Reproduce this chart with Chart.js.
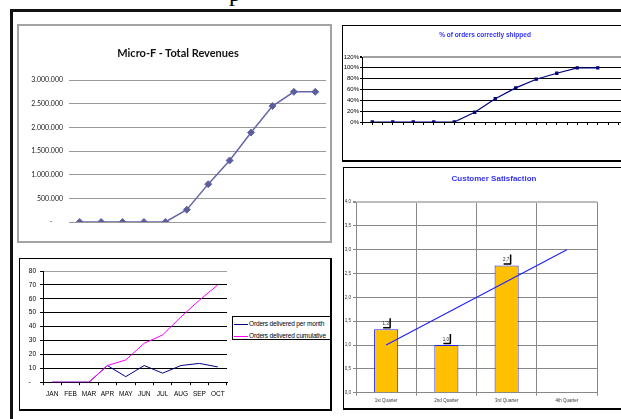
<!DOCTYPE html>
<html lang="en">
<head>
<meta charset="UTF-8">
<title>Micro-F dashboard</title>
<script src="https://cdn.jsdelivr.net/npm/chart.js"></script>
<style>
  html, body { margin: 0; padding: 0; background: #fff; }
  body { position: relative; width: 621px; height: 419px; overflow: hidden; }
  .abs { position: absolute; box-sizing: border-box; }
  canvas { position: absolute; }
  .ttl { position: absolute; text-align: center; font-weight: bold; white-space: nowrap; }
  #ordersLegend { font-family: 'Liberation Sans', Arial, sans-serif; font-size: 6.5px; letter-spacing: -0.15px; color: #000; background: #fff; overflow: hidden; }
  #ordersLegend .row { position: absolute; left: 1px; height: 12px; line-height: 12px; white-space: nowrap; }
  #ordersLegend .key { position: absolute; left: 0; top: 6px; width: 14px; height: 0; border-top: 1px solid; }
  #ordersLegend .txt { position: absolute; left: 15px; top: 0; }
</style>
</head>
<body>
<!-- page frame and the tail of a letter cut off above -->
<div class="abs" style="left:229px; top:-19px; font:24px 'Liberation Serif'; line-height:24px;">p</div>
<div class="abs" style="left:10px; top:9px; width:611px; height:2.5px; background:#111;"></div>
<div class="abs" style="left:10px; top:9px; width:2.5px; height:410px; background:#111;"></div>

<!-- revenues -->
<div class="abs" style="left:17px; top:24px; width:315px; height:219px; border:2px solid #a3a3a3;"></div>
<canvas id="rev" width="315" height="219" style="left:17px; top:24px;"></canvas>
<div class="ttl" style="left:78px; top:46px; width:200px; line-height:14px; font-family:Lato; font-size:11px; color:#111;">Micro-F - Total Revenues</div>

<!-- orders correctly shipped -->
<div class="abs" style="left:342px; top:25px; width:300px; height:137px; border:1.5px solid #000; border-bottom-width:2px;"></div>
<canvas id="ship" width="300" height="137" style="left:342px; top:25px;"></canvas>
<div class="ttl" style="left:385px; top:30px; width:200px; line-height:10px; font-family:'Liberation Sans'; font-size:6.5px; color:#3333ff;">% of orders correctly shipped</div>

<!-- orders delivered -->
<div class="abs" style="left:19px; top:258px; width:313px; height:153px; border:1px solid #000; border-right-width:2.5px; border-bottom-width:2.5px;"></div>
<canvas id="orders" width="313" height="153" style="left:19px; top:258px;"></canvas>
<div id="ordersLegend" class="abs" style="left:232px; top:316px; width:99px; height:24px; border:1px solid #000;"></div>

<!-- customer satisfaction -->
<div class="abs" style="left:343px; top:167px; width:300px; height:243px; border:1.5px solid #000; border-bottom-width:2px;"></div>
<canvas id="sat" width="300" height="243" style="left:343px; top:167px;"></canvas>
<div class="ttl" style="left:394px; top:173px; width:200px; line-height:12px; font-family:'Liberation Sans'; font-size:8px; color:#3333ff;">Customer Satisfaction</div>

<script>
// Micro-F total revenues, by period
var revPeriods = ['1', '2', '3', '4', '5', '6', '7', '8', '9', '10', '11', '12'];
var revValues = [0, 0, 0, 0, 0, 260000, 800000, 1300000, 1890000, 2450000, 2750000, 2750000];

// % of orders correctly shipped
var shipPeriods = [1, 2, 3, 4, 5, 6, 7, 8, 9, 10, 11, 12];
var shipPct = [0, 0, 0, 0, 0, 18, 43, 63, 79, 90, 100, 100];

// orders delivered
var months = ['JAN', 'FEB', 'MAR', 'APR', 'MAY', 'JUN', 'JUL', 'AUG', 'SEP', 'OCT'];
var ordersMonthly = [0, 0, 0, 12, 4, 12, 6.5, 12, 13.5, 11];
var ordersCumulative = [0, 0, 0, 12, 16, 28, 34, 47, 59, 70];

// customer satisfaction
var quarters = ['1st Quarter', '2nd Quarter', '3rd Quarter', '4th Quarter'];
var satScores = [1.33, 1.0, 2.67, null];
var satTrend = [1.0, 1.667, 2.333, 3.0];

Chart.defaults.font.family = "'Liberation Sans', Arial, sans-serif";
Chart.defaults.color = '#000';
Chart.defaults.animation = false;
Chart.defaults.responsive = false;
Chart.defaults.plugins.tooltip.enabled = false;

function dots(v) {
    return String(v).replace(/\B(?=(\d{3})+(?!\d))/g, '.');
}

function comma(v) {
    return v.toFixed(1).replace('.', ',');
}

new Chart(document.getElementById('rev'), {
    type: 'line',
    data: {
        labels: revPeriods,
        datasets: [{
            data: revValues,
            borderColor: '#6466a8',
            backgroundColor: '#5b5d9e',
            borderWidth: 1.5,
            pointStyle: 'rectRot',
            pointRadius: 3.5,
            pointBorderWidth: 1
        }]
    },
    options: {
        layout: { padding: { top: 56, right: 6, bottom: 21, left: 0 } },
        plugins: { legend: { display: false } },
        scales: {
            x: { display: false, offset: true },
            y: {
                min: 0, max: 3000000,
                afterFit: function (s) { s.width = 52; },
                ticks: {
                    stepSize: 500000, padding: 6, color: '#222',
                    font: { family: 'Lato', size: 7 },
                    callback: function (v) { return v === 0 ? '-      ' : dots(v); }
                },
                grid: { color: '#9a9a9a', drawTicks: false },
                border: { display: false }
            }
        }
    }
});

new Chart(document.getElementById('ship'), {
    type: 'line',
    data: {
        datasets: [{
            data: shipPeriods.map(function (p, i) { return { x: p, y: shipPct[i] }; }),
            borderColor: '#000080',
            backgroundColor: '#000080',
            borderWidth: 1.2,
            pointStyle: 'rect',
            pointRadius: 1.5
        }]
    },
    options: {
        layout: { padding: { top: 32, right: 13.5, bottom: 37, left: 0 } },
        plugins: { legend: { display: false } },
        scales: {
            x: {
                type: 'linear', min: 0.5, max: 13.5,
                ticks: { display: false, stepSize: 0.5 },
                grid: { drawOnChartArea: false, color: '#000', tickLength: 3 },
                border: { color: '#000' }
            },
            y: {
                min: 0, max: 120,
                afterFit: function (s) { s.width = 20; },
                ticks: { stepSize: 20, padding: 1, font: { size: 6 }, callback: function (v) { return v + '%'; } },
                grid: {
                    color: function (c) { return c.tick && c.tick.value === 120 ? '#a0a0a0' : '#000'; },
                    lineWidth: function (c) { return c.tick && c.tick.value === 120 ? 2 : 1; },
                    tickColor: '#000', tickLength: 2
                },
                border: { color: '#000' }
            }
        }
    }
});

var ordersChart = new Chart(document.getElementById('orders'), {
    type: 'line',
    data: {
        labels: months,
        datasets: [{
            label: 'Orders delivered per month',
            data: ordersMonthly,
            borderColor: '#000080',
            borderWidth: 1,
            pointRadius: 0,
            order: 1
        }, {
            label: 'Orders delivered cumulative',
            data: ordersCumulative,
            borderColor: '#ff00ff',
            borderWidth: 1,
            pointRadius: 0,
            order: 0
        }]
    },
    options: {
        layout: { padding: { top: 13, right: 105, bottom: 8, left: 0 } },
        plugins: { legend: { display: false } },
        scales: {
            x: {
                offset: true,
                ticks: { padding: 5, font: { size: 6.5 }, maxRotation: 0, minRotation: 0, autoSkip: false },
                grid: {
                    offset: true,
                    color: function (c) { return c.index === months.length ? '#a0a0a0' : 'rgba(0,0,0,0)'; },
                    tickColor: '#000', tickLength: 3
                },
                border: { color: '#000' }
            },
            y: {
                min: 0, max: 80,
                afterFit: function (s) { s.width = 24; },
                ticks: { stepSize: 10, padding: 4, font: { size: 6.5 }, callback: function (v) { return v === 0 ? '-   ' : v; } },
                grid: {
                    color: function (c) { return c.tick && c.tick.value === 80 ? '#a0a0a0' : '#000'; },
                    tickColor: '#000', tickLength: 3
                },
                border: { color: '#000' }
            }
        }
    }
});

// legend in a framed box beside the plot, as in the spreadsheet
var legendBox = document.getElementById('ordersLegend');
ordersChart.data.datasets.forEach(function (ds, i) {
    var row = document.createElement('div');
    row.className = 'row';
    row.style.top = (0.5 + i * 12) + 'px';
    row.innerHTML = '<span class="key" style="border-color:' + ds.borderColor + '"></span><span class="txt"></span>';
    row.querySelector('.txt').textContent = ds.label;
    legendBox.appendChild(row);
});

// value labels over the bars, with the little black marks of the original
var barNotes = {
    id: 'barNotes',
    afterDatasetsDraw: function (chart) {
        var meta = chart.getDatasetMeta(1);
        var ctx = chart.ctx;
        ctx.save();
        meta.data.forEach(function (bar, i) {
            var v = satScores[i];
            if (v == null) return;
            var x = bar.x, y = bar.y;
            ctx.fillStyle = '#222';
            ctx.font = "4.5px 'Liberation Sans'";
            ctx.textAlign = 'center';
            ctx.textBaseline = 'bottom';
            ctx.fillText(comma(v), x - 0.5, y - 3.5);
            ctx.strokeStyle = '#000';
            ctx.lineWidth = 1.5;
            ctx.beginPath();
            ctx.moveTo(x - 3, y - 1.5);
            ctx.lineTo(x + 4.5, y - 1.5);
            ctx.moveTo(x + 4, y - 1.5);
            ctx.lineTo(x + 4, y - 11);
            ctx.stroke();
        });
        ctx.restore();
    }
};

new Chart(document.getElementById('sat'), {
    type: 'bar',
    data: {
        labels: quarters,
        datasets: [{
            type: 'line',
            data: satTrend,
            borderColor: '#2222ff',
            borderWidth: 1.2,
            pointRadius: 0,
            order: 0
        }, {
            type: 'bar',
            data: satScores,
            backgroundColor: '#ffc000',
            borderColor: '#2222e6',
            borderWidth: 1,
            barPercentage: 0.8,
            categoryPercentage: 0.5,
            order: 1
        }]
    },
    options: {
        layout: { padding: { top: 35, right: 46, bottom: 4.3, left: 0 } },
        plugins: { legend: { display: false } },
        scales: {
            x: {
                ticks: { padding: 2.3, font: { size: 4.5 }, color: '#333' },
                grid: {
                    color: function (c) { return c.index === quarters.length ? '#bdbdbd' : '#888'; },
                    lineWidth: function (c) { return c.index === quarters.length ? 2 : 1; },
                    tickColor: '#888', tickLength: 3
                },
                border: { color: '#888' }
            },
            y: {
                min: 0, max: 4,
                afterFit: function (s) { s.width = 13; },
                ticks: { stepSize: 0.5, padding: 2, font: { size: 4.5 }, color: '#333', callback: function (v) { return comma(v); } },
                grid: {
                    color: function (c) { return c.tick && c.tick.value === 4 ? '#bdbdbd' : '#888'; },
                    lineWidth: function (c) { return c.tick && c.tick.value === 4 ? 2 : 1; },
                    tickColor: '#888', tickLength: 3
                },
                border: { color: '#888' }
            }
        }
    },
    plugins: [barNotes]
});
</script>
</body>
</html>
